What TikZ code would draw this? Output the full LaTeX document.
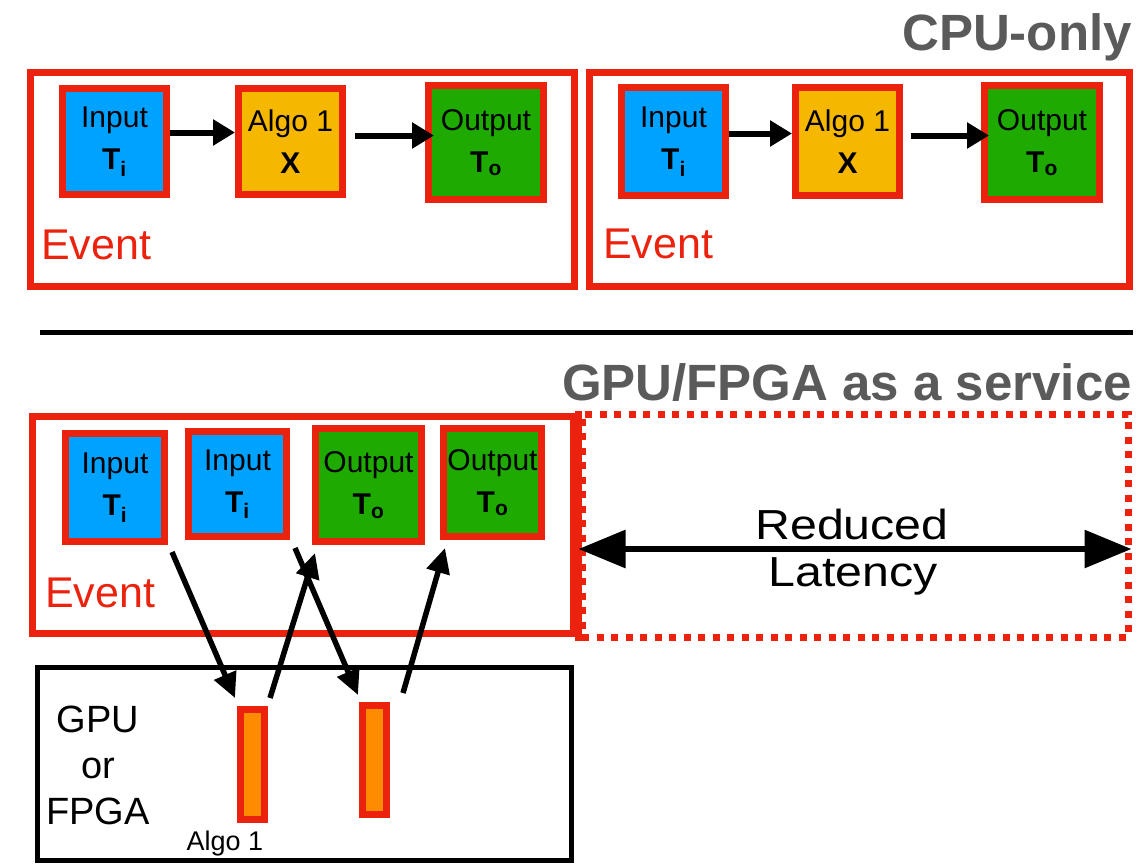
\documentclass[tikz,border=0pt]{standalone}
\usepackage{fontspec}
\setmainfont{Liberation Sans}
\usetikzlibrary{arrows.meta,calc}
\definecolor{evred}{RGB}{234,34,14}
\definecolor{inblue}{RGB}{0,162,255}
\definecolor{algoyel}{RGB}{245,183,0}
\definecolor{outgreen}{RGB}{30,170,0}
\definecolor{barorange}{RGB}{255,140,0}
\definecolor{titlegray}{RGB}{90,90,90}
\begin{document}
\begin{tikzpicture}[x=1pt,y=-1pt,
  box/.style={draw=evred, line width=7pt, align=center, inner sep=0pt,
    font=\fontsize{30}{42}\selectfont, text=black},
  inbox/.style={box, fill=inblue},
  algobox/.style={box, fill=algoyel},
  outbox/.style={box, fill=outgreen},
  evbox/.style={draw=evred, line width=7pt, inner sep=0pt},
  evlabel/.style={text=evred, font=\fontsize{43}{43}\selectfont, anchor=base west, inner sep=0pt},
  titlelabel/.style={text=titlegray, font=\bfseries\fontsize{51}{51}\selectfont, anchor=base east, inner sep=0pt},
  flowarr/.style={line width=6pt, -{Triangle[length=22pt,width=25pt]}},
  gpuarr/.style={line width=5.5pt, -{Triangle[length=25pt,width=23pt]}},
  latarr/.style={line width=6pt, {Triangle[length=47pt,width=37pt]}-{Triangle[length=47pt,width=37pt]}},
  barbox/.style={draw=evred, line width=7pt, fill=barorange, inner sep=0pt, minimum width=24pt},
  gpubox/.style={draw=black, line width=5pt, inner sep=0pt},
  plain/.style={text=black, inner sep=0pt, align=center}
]
\useasboundingbox (0,0) rectangle (1146,863);

% ---------- titles ----------
\node[titlelabel] (t1) at (1132,50) {CPU-only};
\node[titlelabel] (t2) at (1132,400) {GPU/FPGA as a service};

% ---------- CPU-only: event 1 ----------
\node[evbox, minimum width=544pt, minimum height=214pt] (ev1) at (302,179) {};
\node[inbox, minimum width=104pt, minimum height=106pt] (in1t) at (114.5,141.5) {Input\\\textbf{T\textsubscript{i}}};
\node[algobox, minimum width=104pt, minimum height=106pt] (al1t) at (290.5,141.5) {Algo 1\\\textbf{X}};
\node[outbox, minimum width=115pt, minimum height=114pt] (out1t) at (486,142.5) {Output\\\textbf{T\textsubscript{o}}};
\node[evlabel] (e1) at (41,259) {Event};
\draw[flowarr] ([yshift=9pt]in1t.east) -- ([yshift=9pt]in1t.east -| al1t.west);
\draw[flowarr] ([xshift=9pt,yshift=6pt]al1t.east) -- ([xshift=9pt,yshift=6pt]al1t.east -| out1t.west);

% ---------- CPU-only: event 2 ----------
\node[evbox, minimum width=540pt, minimum height=214pt] (ev2) at (859,179) {};
\node[inbox, minimum width=104pt, minimum height=108pt] (in2t) at (673.5,141.5) {Input\\\textbf{T\textsubscript{i}}};
\node[algobox, minimum width=104pt, minimum height=108pt] (al2t) at (847.5,141.5) {Algo 1\\\textbf{X}};
\node[outbox, minimum width=115pt, minimum height=114pt] (out2t) at (1042,142.5) {Output\\\textbf{T\textsubscript{o}}};
\node[evlabel] (e2) at (603,258) {Event};
\draw[flowarr] ([yshift=8pt]in2t.east) -- ([yshift=8pt]in2t.east -| al2t.west);
\draw[flowarr] ([xshift=8pt,yshift=6pt]al2t.east) -- ([xshift=8pt,yshift=6pt]al2t.east -| out2t.west);

% ---------- separator ----------
\coordinate (sepL) at (40,332);
\coordinate (sepR) at (1133,332);
\draw[line width=5pt] (sepL) -- (sepR);

% ---------- GPU/FPGA as a service ----------
\node[draw=evred, line width=7pt, dash pattern=on 7pt off 7.5pt, inner sep=0pt,
      minimum width=546pt, minimum height=223pt] (lat) at (855,525.5) {};
\draw[evred, line width=7pt] (lat.north west) -- (lat.south west);
\node[evbox, minimum width=541pt, minimum height=217pt] (ev3) at (302.5,524.5) {};

\node[inbox, minimum width=99pt, minimum height=108pt] (in1) at (115,487.5) {Input\\\textbf{T\textsubscript{i}}};
\node[inbox, minimum width=98pt, minimum height=105pt] (in2) at (237.5,484) {Input\\\textbf{T\textsubscript{i}}};
\node[outbox, minimum width=106pt, minimum height=113pt] (out1) at (368.5,485) {Output\\\textbf{T\textsubscript{o}}};
\node[outbox, minimum width=98pt, minimum height=108pt] (out2) at (492.5,482.5) {Output\\\textbf{T\textsubscript{o}}};
\node[evlabel] (e3) at (45,607) {Event};

\draw[latarr] ([yshift=-23.5pt]lat.west) -- ([yshift=-23.5pt]lat.east);
\node[plain, font=\fontsize{42}{42}\selectfont, anchor=base] (red) at (852,539) {\scalebox{1.15}[1]{Reduced}};
\node[plain, font=\fontsize{42}{42}\selectfont, anchor=base] (latc) at (853,586) {\scalebox{1.15}[1]{Latency}};

% ---------- GPU or FPGA ----------
\node[gpubox, minimum width=534pt, minimum height=193pt] (gpu) at (304,763.5) {};
\node[plain, font=\fontsize{38}{46}\selectfont] (gputxt) at (98,765) {GPU\\or\\FPGA};
\node[barbox, minimum height=110pt] (bar1) at (252.5,764.5) {};
\node[barbox, minimum height=109pt] (bar2) at (374.5,760) {};
\node[plain, font=\fontsize{27}{27}\selectfont, anchor=base] (alg) at (225,850) {Algo 1};

% ---------- offload arrows ----------
\draw[gpuarr] ($(in1.south east)+(4,7)$) -- ($(bar1.north west)+(-2,-8)$);
\draw[gpuarr] ($(bar1.north east)+(2,-8)$) -- ($(out1.south west)+(3,8)$);
\draw[gpuarr] ($(in2.south east)+(5,8)$) -- ($(bar2.north west)+(-1,-7)$);
\draw[gpuarr] ($(bar2.north east)+(13,-9)$) -- ($(out2.south west)+(5,8)$);
\end{tikzpicture}
\end{document}
